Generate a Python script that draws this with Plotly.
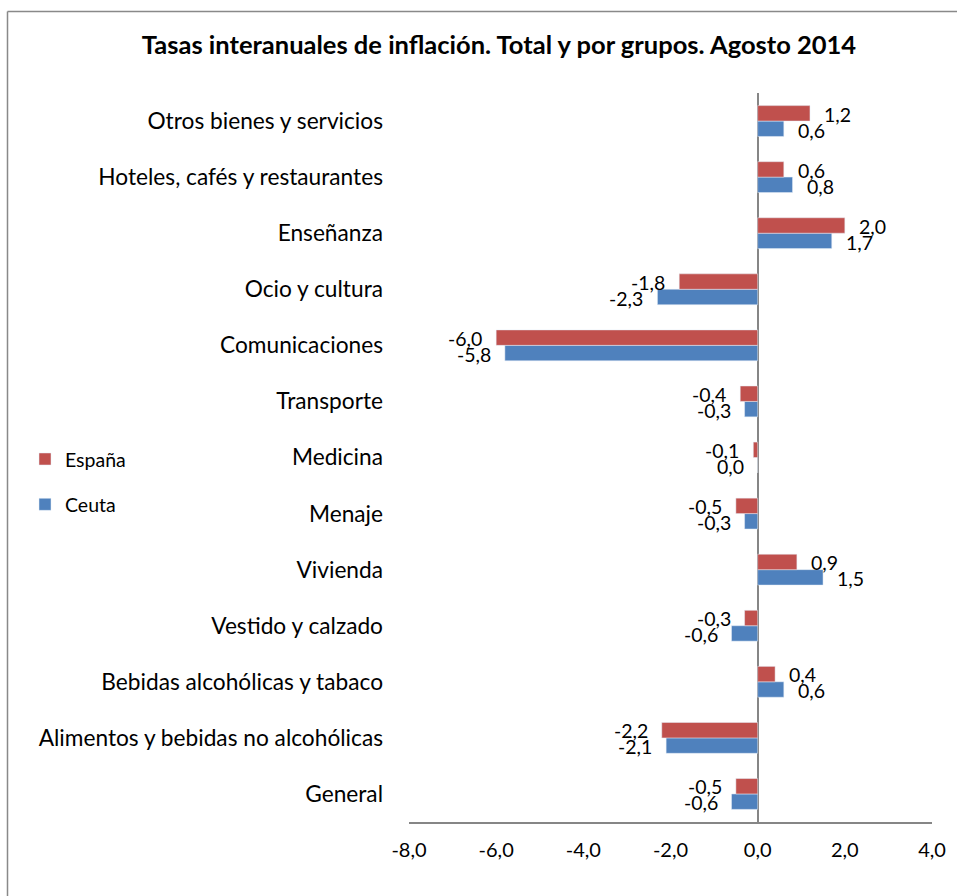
import plotly.graph_objects as go

categories = [
    "General",
    "Alimentos y bebidas no alcohólicas",
    "Bebidas alcohólicas y tabaco",
    "Vestido y calzado",
    "Vivienda",
    "Menaje",
    "Medicina",
    "Transporte",
    "Comunicaciones",
    "Ocio y cultura",
    "Enseñanza",
    "Hoteles, cafés y restaurantes",
    "Otros bienes y servicios",
]
espana = [-0.5, -2.2, 0.4, -0.3, 0.9, -0.5, -0.1, -0.4, -6.0, -1.8, 2.0, 0.6, 1.2]
ceuta = [-0.6, -2.1, 0.6, -0.6, 1.5, -0.3, 0.0, -0.3, -5.8, -2.3, 1.7, 0.8, 0.6]
tick_vals = [-8, -6, -4, -2, 0, 2, 4]
tick_text = ["-8,0", "-6,0", "-4,0", "-2,0", "0,0", "2,0", "4,0"]

RED = "#C0504D"
BLUE = "#4F81BD"
FONT = "Lato, 'Open Sans', sans-serif"

W, H = 957, 896
ML = 409
MR = W - 932
MT = 93
MB = H - 822.4

fig = go.Figure()
# Ceuta first so it sits below España inside each group
fig.add_trace(go.Bar(y=categories, x=ceuta, orientation="h", name="Ceuta",
                     marker=dict(color=BLUE), legendrank=2, legendgroup="c",
                     hoverinfo="x+y"))
fig.add_trace(go.Bar(y=categories, x=espana, orientation="h", name="España",
                     marker=dict(color=RED), legendrank=1, legendgroup="e",
                     hoverinfo="x+y"))

def fmt(v):
    return f"{v:.1f}".replace(".", ",")

annotations = []
for series, shift in ((espana, 7), (ceuta, -9)):
    for cat, v in zip(categories, series):
        pos = v > 0
        annotations.append(dict(
            x=v, y=cat, xref="x", yref="y", text=fmt(v), showarrow=False,
            xanchor="left" if pos else "right", xshift=12 if pos else -12,
            yshift=shift, font=dict(family=FONT, size=19.5, color="black"),
        ))

plot_w = W - ML - MR
plot_h = H - MT - MB
def px_x(p):
    return (p - ML) / plot_w
def px_y(p):
    return (H - MB - p) / plot_h

border = dict(color="#898989", width=1.5)
fig.update_layout(
    width=W, height=H,
    margin=dict(l=ML, r=MR, t=MT, b=MB, autoexpand=False),
    paper_bgcolor="white", plot_bgcolor="white",
    barmode="group", bargap=0.45, bargroupgap=0,
    font=dict(family=FONT, color="black"),
    title=dict(text="<b>Tasas interanuales de inflación. Total y por grupos. Agosto 2014</b>",
               x=499 / W, xanchor="center", y=1 - 45 / H, yanchor="middle",
               xref="container", yref="container",
               font=dict(family=FONT, size=25.5, color="black")),
    xaxis=dict(range=[-8, 4], tickvals=tick_vals, ticktext=tick_text,
               showgrid=False, zeroline=True, zerolinecolor="#868686", zerolinewidth=2,
               showline=True, linecolor="#868686", linewidth=2, ticks="",
               ticklabelstandoff=9, tickfont=dict(family=FONT, size=20, color="black")),
    yaxis=dict(categoryorder="array", categoryarray=categories, showgrid=False,
               zeroline=False, showline=False, ticks="", ticklabelstandoff=25,
               tickfont=dict(family=FONT, size=22.7, color="black")),
    legend=dict(x=px_x(25), y=px_y(440), xanchor="left", yanchor="top",
                traceorder="grouped", tracegroupgap=17, itemwidth=30,
                font=dict(family=FONT, size=19.5, color="black"),
                bgcolor="rgba(0,0,0,0)"),
    showlegend=True,
    annotations=annotations,
    shapes=[
        dict(type="line", xref="paper", yref="paper",
             x0=px_x(7.5), x1=px_x(7.5), y0=px_y(H + 10), y1=px_y(11.5),
             line=border, layer="below"),
        dict(type="line", xref="paper", yref="paper",
             x0=px_x(7.5), x1=px_x(W + 10), y0=px_y(11.5), y1=px_y(11.5),
             line=border, layer="below"),
    ],
)

fig.write_html(
    "out.html",
    config={"displayModeBar": False},
    post_script="document.body.style.margin='0';document.body.style.overflow='hidden';",
)
